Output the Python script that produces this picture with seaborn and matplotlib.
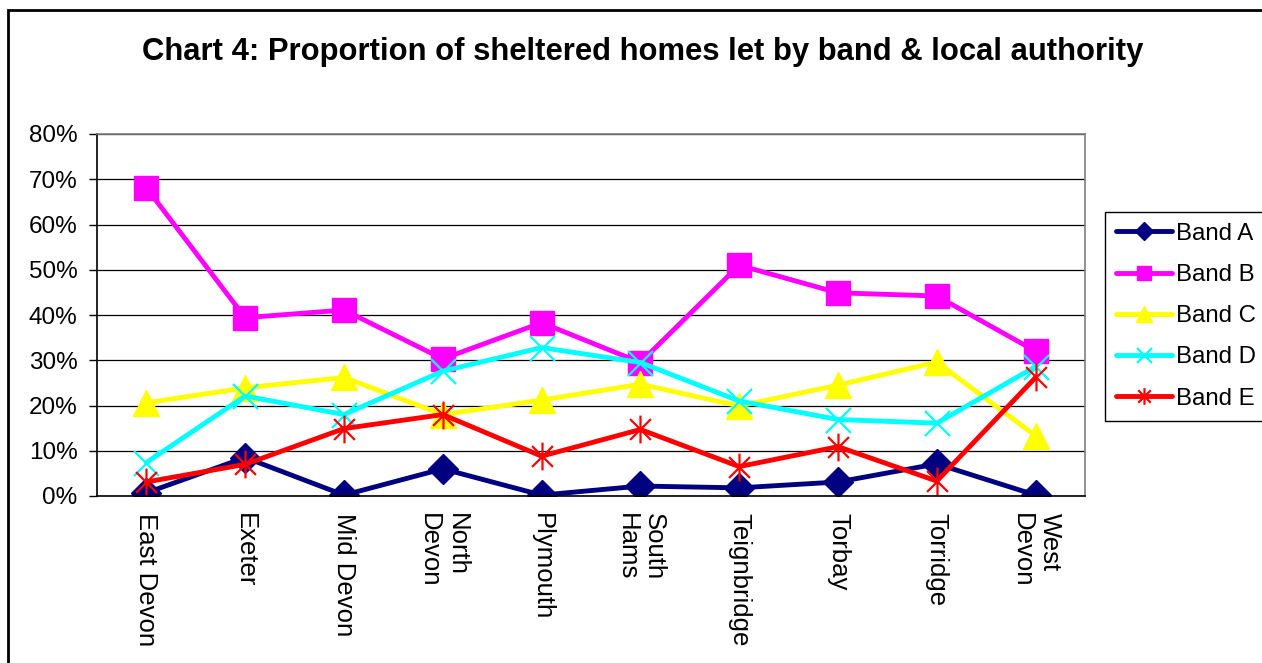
import numpy as np
import pandas as pd
import matplotlib
matplotlib.use("Agg")
import matplotlib.pyplot as plt
import matplotlib.patches as patches
from matplotlib.path import Path
from matplotlib.ticker import PercentFormatter
import seaborn as sns

# data (percent of sheltered homes let)
authorities = ["East Devon", "Exeter", "Mid Devon", "North\nDevon", "Plymouth",
               "South\nHams", "Teignbridge", "Torbay", "Torridge", "West\nDevon"]
band_a = [0.7, 8.5, 0.2, 6.0, 0.2, 2.2, 1.8, 3.1, 7.1, 0.2]
band_b = [68.1, 39.4, 41.1, 30.3, 38.3, 29.5, 51.0, 44.9, 44.2, 32.0]
band_c = [20.6, 23.9, 26.2, 18.0, 21.2, 24.7, 19.9, 24.5, 29.6, 13.3]
band_d = [7.4, 22.1, 18.0, 27.6, 32.8, 29.5, 21.0, 16.9, 16.1, 28.6]
band_e = [3.1, 7.0, 14.9, 18.0, 8.8, 14.7, 6.5, 10.9, 3.3, 26.2]
band_names = ["Band A", "Band B", "Band C", "Band D", "Band E"]

sns.set_style("white")
plt.rcParams['font.family'] = ['Liberation Sans', 'DejaVu Sans']
plt.rcParams['text.color'] = 'black'
plt.rcParams['xtick.color'] = 'black'
plt.rcParams['ytick.color'] = 'black'

# excel style asterisk: vertical bar plus an X
star = Path([(0, -1), (0, 1), (-0.75, -0.75), (0.75, 0.75), (-0.75, 0.75), (0.75, -0.75)],
            [Path.MOVETO, Path.LINETO] * 3)

styles = [
    dict(color="#000080", marker="D", markersize=15, mew=1),
    dict(color="#FF00FF", marker="s", markersize=17, mew=1),
    dict(color="#FFFF00", marker="^", markersize=19, mew=1),
    dict(color="#00FFFF", marker="x", markersize=18, mew=1.6),
    dict(color="#FF0000", marker=star, markersize=20, mew=1.6),
]

fig = plt.figure(figsize=(12.62, 6.63), dpi=100)
ax = fig.add_axes([97 / 1262, 1 - 496 / 663, 988 / 1262, 362 / 663])

for name, vals, st in zip(band_names, [band_a, band_b, band_c, band_d, band_e], styles):
    sns.lineplot(x=authorities, y=vals, ax=ax, sort=False, label=name,
                 color=st["color"], marker=st["marker"], markersize=st["markersize"],
                 markeredgecolor=st["color"], markerfacecolor=st["color"],
                 markeredgewidth=st["mew"], linewidth=3.5)

ax.set_xlim(-0.5, 9.5)
ax.set_ylim(0, 80)
ax.yaxis.set_major_locator(plt.MultipleLocator(10))
ax.yaxis.set_major_formatter(PercentFormatter(100, decimals=0))
ax.yaxis.grid(True, color="black", linewidth=0.9)
ax.set_axisbelow(True)

ax.set_xticks(range(len(authorities)))
ax.set_xticklabels(authorities, rotation=-90, va="top", ha="center", multialignment="left")
ax.set_xticks(np.arange(-0.5, len(authorities), 1), minor=True)
ax.tick_params(axis="x", which="major", length=0, pad=12, labelsize=18.5)
ax.tick_params(axis="x", which="minor", length=6, width=1, color="black", direction="out")
ax.tick_params(axis="y", which="major", length=6, width=1, color="black", direction="out",
               pad=8, labelsize=17.5, left=True)
ax.set_xlabel("")
ax.set_ylabel("")

for side in ["left", "bottom"]:
    ax.spines[side].set_color("black")
    ax.spines[side].set_linewidth(1.2)
for side in ["top", "right"]:
    ax.spines[side].set_color("#808080")
    ax.spines[side].set_linewidth(1.2)

leg = ax.legend(loc="upper left", bbox_to_anchor=(1105 / 1262, 1 - 212 / 663),
                bbox_transform=fig.transFigure, fontsize=17.3, frameon=True, fancybox=False,
                edgecolor="black", framealpha=1, borderpad=0.45, labelspacing=0.8,
                handlelength=2.35, handletextpad=0.15, markerscale=0.6, borderaxespad=0)
leg.get_frame().set_linewidth(1)

fig.text(0.509, 1 - 52 / 663, "Chart 4: Proportion of sheltered homes let by band & local authority",
         ha="center", va="center", fontsize=22.3, fontweight="bold")

# outer chart border (runs off the right and bottom edges)
fig.patches.append(patches.Rectangle((8 / 1262, -0.05), 1.1, 1.05 - 10 / 663,
                                     transform=fig.transFigure, fill=False,
                                     edgecolor="black", linewidth=2, clip_on=False))

plt.savefig("out.png", dpi=100)
